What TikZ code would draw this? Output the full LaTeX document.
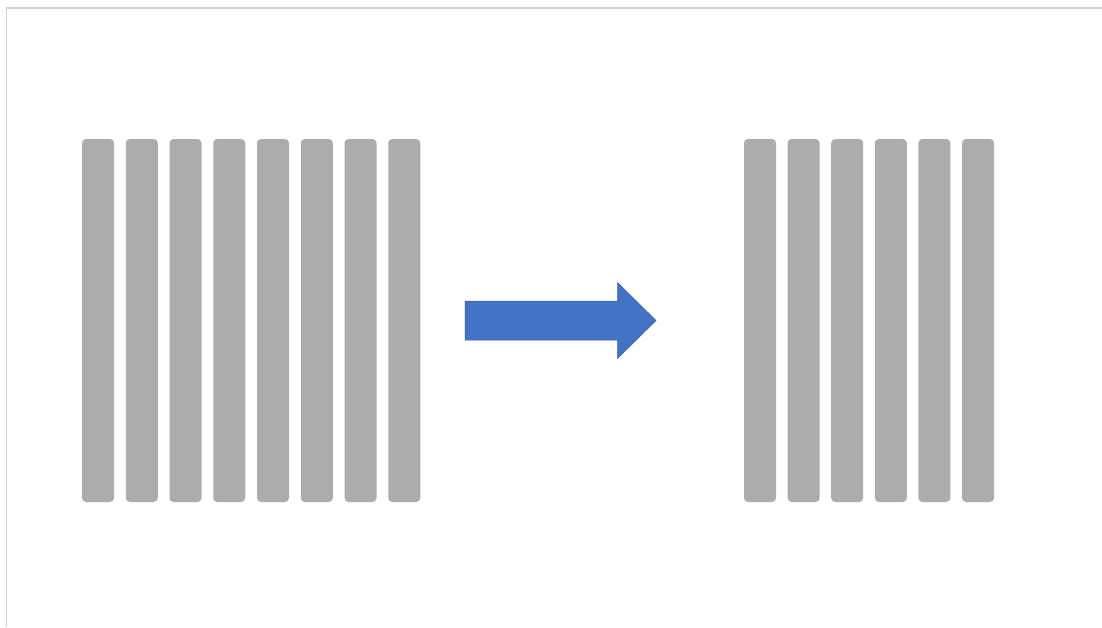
\documentclass[tikz,border=0pt]{standalone}
\usetikzlibrary{positioning}

\definecolor{bargray}{HTML}{AEABAB}
\definecolor{arrowblue}{HTML}{4472C4}
\definecolor{edgegray}{HTML}{D0D0D0}

\begin{document}
\begin{tikzpicture}[
    x=1pt, y=-1pt,
    bar/.style={fill=bargray, rounded corners=4pt, minimum width=32pt, minimum height=363pt, inner sep=0pt}
]

\useasboundingbox (0,0) rectangle (1102,627);

% Borde de la diapositiva
\draw[edgegray, line width=1.2pt] (6.5,627) -- (6.5,8) -- (1102,8);

% Barras de la izquierda
\foreach \i in {1,...,8}
    \node[bar] (l\i) at ({98+43.75*(\i-1)},320.5) {};

% Barras de la derecha
\foreach \i in {1,...,6}
    \node[bar] (r\i) at ({760+43.6*(\i-1)},320.5) {};

% Flecha
\draw[fill=arrowblue, draw=arrowblue!80!black, line width=0.5pt]
    (465,301) -- (617.5,301) -- (617.5,282.5) -- (656,320.5)
    -- (617.5,358.5) -- (617.5,340) -- (465,340) -- cycle;

\end{tikzpicture}
\end{document}
